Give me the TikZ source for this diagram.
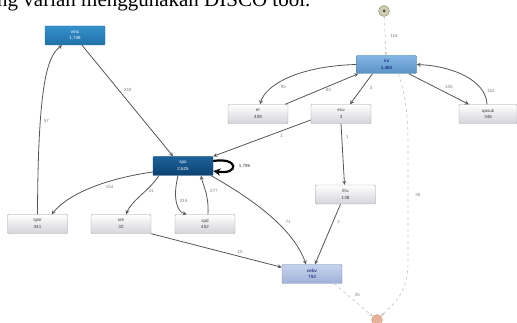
\documentclass[tikz,border=0pt]{standalone}
\usepackage{fontspec}
\setmainfont{Liberation Serif}
\setsansfont{Liberation Sans}
\usetikzlibrary{arrows,shapes,calc}
\usetikzlibrary{positioning}
\definecolor{fg}{HTML}{3C3C3C}
\definecolor{edgecol}{HTML}{555555}
\definecolor{dashcol}{HTML}{C4C4C4}
\definecolor{boxline}{HTML}{9C9CA4}
\definecolor{boxgray}{HTML}{D4D4DA}
\definecolor{vmctop}{HTML}{3591CC}
\definecolor{vmcbot}{HTML}{2270A8}
\definecolor{initop}{HTML}{82B6E2}
\definecolor{inibot}{HTML}{5B93C8}
\definecolor{spotop}{HTML}{1D6199}
\definecolor{spobot}{HTML}{0A4272}
\definecolor{cebvtop}{HTML}{C6D3EE}
\definecolor{cebvbot}{HTML}{9DB1D8}
\tikzstyle{act}=[draw=boxline, rounded corners=1pt, minimum width=60pt,
minimum height=19pt, inner sep=0pt, align=center, text=fg,
font=\sffamily\fontsize{4.5}{6.5}\selectfont, top color=white, bottom color=boxgray]
\tikzstyle{actvmc}=[act, draw=vmcbot, top color=vmctop, bottom color=vmcbot, text=white]
\tikzstyle{actini}=[act, draw=inibot!80!black, top color=initop, bottom color=inibot, text=blue!40!black]
\tikzstyle{actspo}=[act, draw=spobot, top color=spotop, bottom color=spobot, text=white]
\tikzstyle{actcebv}=[act, draw=cebvbot!80!black, top color=cebvtop, bottom color=cebvbot, text=blue!40!black]
\tikzstyle{flow}=[->, >=stealth, draw=edgecol, line width=0.8pt]
\tikzstyle{ghost}=[->, >=stealth, draw=dashcol, line width=0.6pt, dashed]
\tikzstyle{selfloop}=[->, >=stealth, line width=2.2pt, black]
\tikzstyle{lbl}=[font=\sffamily\fontsize{4.5}{5}\selectfont, text=gray, inner sep=1pt]

\begin{document}
\begin{tikzpicture}[x=1pt, y=-1pt]
    \useasboundingbox (0,0) rectangle (517,323);
    \clip (0,0) rectangle (517,323);

    % caption cut off by the page
    \node[anchor=base west, font=\fontsize{21}{21}\selectfont, inner sep=0pt] (caption) at (-3,7) {ng varian menggunakan DISCO tool.};

    % start and end points
    \node[circle, draw=olive!40!gray, fill=olive!25!gray!45, minimum size=11pt, inner sep=0pt] (start) at (384,11) {};
    \node[circle, fill=olive!40!black, minimum size=3pt, inner sep=0pt] at (start) {};
    \node[circle, draw=red!30!brown!60, fill=red!20!brown!50, minimum size=11pt, inner sep=0pt] (fin) at (377,320) {};

    % activities
    \node[actvmc] (vmc) at (75,35.5) {vmc\\1,738};
    \node[actini, minimum height=18pt] (ini) at (386.5,64.5) {ini\\1,463};
    \node[act] (er) at (258,114) {er\\408};
    \node[act] (ecu) at (341,114) {ecu\\3};
    \node[act, minimum width=58pt] (qasuk) at (488,114) {qasuk\\346};
    \node[actspo] (spo) at (183,166) {spo\\2,625};
    \node[act] (ifru) at (345.5,194.5) {ifru\\138};
    \node[act] (spsr) at (37.5,224) {spsr\\341};
    \node[act] (sre) at (121,224) {sre\\30};
    \node[act] (spd) at (205,224) {spd\\452};
    \node[actcebv] (cebv) at (312,274) {cebv\\753};

    % flows
    \draw[ghost] (start) -- node[lbl, right=4pt] {116} (ini);
    \draw[flow] ($(vmc.south)+(7,0)$) -- node[lbl, pos=0.4, right=4pt] {240} ($(spo.north)+(-10,0)$);
    \draw[flow] (spsr.north) .. controls (38,80) and (48,56) .. node[lbl, pos=0.3, right=2pt] {57} ($(vmc.south)+(-13,0)$);
    \draw[flow] (ini.west) .. controls (300,66) and (266,84) .. node[lbl, pos=0.62, below right=1pt] {95} ($(er.north)+(2,0)$);
    \draw[flow] ($(er.north east)+(-3,0)$) -- node[lbl, pos=0.47, right=5pt] {93} ($(ini.south west)+(2,0)$);
    \draw[flow] ($(ini.south)+(-14,0)$) -- node[lbl, pos=0.45, right=6pt] {3} ($(ecu.north)+(9,0)$);
    \draw[flow] ($(ini.south east)+(-8,0)$) -- node[lbl, pos=0.45, right=8pt] {155} ($(qasuk.north west)+(10,0)$);
    \draw[flow] ($(qasuk.north)+(-1,0)$) .. controls (486,80) and (452,66) .. node[lbl, pos=0.2, right=3pt] {163} (ini.east);
    \draw[flow] ($(ecu.west)+(0,6)$) -- node[lbl, pos=0.3, below=2pt] {1} (spo.north east);
    \draw[flow] (ecu.south) -- node[lbl, pos=0.22, right=3pt] {1} ($(ifru.north)+(-1,0)$);
    \draw[flow] ($(ifru.south)+(-5,0)$) -- node[lbl, pos=0.3, right=3pt] {2} ($(cebv.north)+(3,0)$);
    \draw[flow] ($(spo.south east)+(-2,0)$) .. controls (245,195) and (292,225) .. node[lbl, pos=0.6, right=8pt] {71} ($(cebv.north)+(-6,0)$);
    \draw[flow] (sre.south east) -- node[lbl, pos=0.68, above=2pt] {15} ($(cebv.north west)+(0,3)$);
    \draw[flow] ($(spo.west)+(0,6)$) .. controls (110,178) and (70,192) .. node[lbl, pos=0.35, below=3pt] {154} ($(spsr.north east)+(-16,0)$);
    \draw[flow] ($(spo.south west)+(6,0)$) .. controls (150,190) and (132,200) .. node[lbl, pos=0.4, right=2pt] {31} ($(sre.north)+(5,0)$);
    \draw[flow] ($(spo.south)+(-5,0)$) .. controls (172,200) and (178,212) .. node[lbl, pos=0.45, right=2pt] {215} ($(spd.north west)+(12,0)$);
    \draw[flow] ($(spd.north)+(3,0)$) .. controls (209,195) and (203,185) .. node[lbl, pos=0.5, right=3pt] {277} ($(spo.south)+(18,0)$);
    \draw[selfloop] ($(spo.east)+(0,-5)$) .. controls +(26,-4) and +(26,4) .. node[lbl, right=4pt, text=black!80] {1,796} ($(spo.east)+(0,5)$);
    \draw[ghost] ($(ini.south)+(12,0)$) .. controls (407,100) and (408,120) .. (408,150) -- node[lbl, pos=0.4, right=6pt] {35} (408,262) .. controls (408,295) and (392,305) .. (fin);
    \draw[ghost] ($(cebv.south east)+(-8,0)$) -- node[lbl, pos=0.35, right=6pt] {35} (fin);
\end{tikzpicture}
\end{document}
